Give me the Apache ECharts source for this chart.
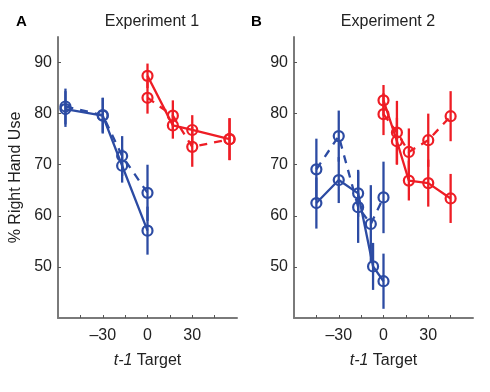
<!DOCTYPE html>
<html>
<head>
<meta charset="utf-8">
<script src="https://cdn.jsdelivr.net/npm/echarts@6/dist/echarts.min.js"></script>
<style>
  html, body { margin: 0; padding: 0; background: #fff; }
  #chart { width: 490px; height: 392px; }
</style>
</head>
<body>
<div id="chart"></div>
<script>
// axis ticks / labels
var xTicks = [-45, -30, -15, 0, 15, 30, 45];
var xLabels = [-30, 0, 30];
var yTicks = [50, 60, 70, 80, 90];

// Experiment 1 (panel A)
var a_blueX = [-55, -30, -17, 0];
var a_blueSolid = [80.9, 79.6, 69.8, 57.1];
var a_blueSolidErr = [3.5, 3.5, 3.3, 4.7];
var a_blueDash = [81.4, 79.7, 71.7, 64.5];
var a_blueDashErr = [3.5, 3.4, 3.9, 5.5];
var a_redX = [0, 17, 30, 55];
var a_redSolid = [87.4, 77.7, 76.8, 75.0];
var a_redSolidErr = [2.4, 2.6, 2.9, 4.1];
var a_redDash = [83.1, 79.6, 73.5, 75.0];
var a_redDashErr = [3.1, 3.0, 3.9, 4.1];

// Experiment 2 (panel B)
var b_blueSolidX = [-45, -30, -17, -7, 0];
var b_blueSolid = [62.5, 67.0, 64.4, 50.1, 47.2];
var b_blueSolidErr = [5.0, 4.5, 4.6, 4.6, 5.4];
var b_blueDashX = [-45, -30, -17, -8.5, 0];
var b_blueDash = [69.1, 75.6, 61.7, 58.4, 63.6];
var b_blueDashErr = [6.0, 5.0, 7.0, 7.6, 7.0];
var b_redX = [0, 9, 17, 30, 45];
var b_redSolid = [82.6, 74.6, 66.9, 66.4, 63.4];
var b_redSolidErr = [3.0, 4.6, 3.9, 4.6, 4.8];
var b_redDash = [79.9, 76.3, 72.5, 74.8, 79.5];
var b_redDashErr = [4.1, 6.2, 4.6, 5.2, 4.9];

var BLUE = "#2c4ba3";
var RED = "#ee1d25";
var AXIS = "#7a7a7a";
var FONT = "Liberation Sans, Arial, sans-serif";

function pairs(xs, ys) {
    return xs.map(function (x, i) { return [x, ys[i]]; });
}

function errData(xs, ys, es) {
    return xs.map(function (x, i) { return [x, ys[i] - es[i], ys[i] + es[i]]; });
}

// mean line with open circles
function lineSeries(g, xs, ys, color, dashed) {
    return {
        type: "line",
        xAxisIndex: g,
        yAxisIndex: g,
        data: pairs(xs, ys),
        symbol: "circle",
        symbolSize: 10,
        itemStyle: { color: "rgba(0,0,0,0)", borderColor: color, borderWidth: 2.2 },
        lineStyle: { color: color, width: 2.3, type: dashed ? [8, 7] : "solid" },
        silent: true,
        animation: false,
        z: 3,
    };
}

// vertical error bars
function errSeries(g, xs, ys, es, color) {
    return {
        type: "custom",
        xAxisIndex: g,
        yAxisIndex: g,
        data: errData(xs, ys, es),
        encode: { x: 0, y: [1, 2] },
        renderItem: function (params, api) {
            var lo = api.coord([api.value(0), api.value(1)]);
            var hi = api.coord([api.value(0), api.value(2)]);
            return {
                type: "line",
                shape: { x1: lo[0], y1: lo[1], x2: hi[0], y2: hi[1] },
                style: { stroke: color, lineWidth: 2.3 },
            };
        },
        silent: true,
        animation: false,
        z: 2,
    };
}

function xAxis(g) {
    return {
        gridIndex: g,
        type: "value",
        min: -60,
        max: 60,
        interval: 15,
        splitLine: { show: false },
        axisLine: { onZero: false, lineStyle: { color: AXIS, width: 2 } },
        axisTick: { inside: true, length: 3, customValues: xTicks, lineStyle: { color: "#555", width: 1 } },
        axisLabel: {
            customValues: xLabels,
            margin: 10,
            fontSize: 16,
            color: "#222",
            fontFamily: FONT,
            formatter: function (v) { return String(v).replace("-", "\u2013"); },
        },
        name: "{i|t-1} Target",
        nameLocation: "middle",
        nameGap: 35,
        nameTextStyle: {
            fontSize: 16,
            color: "#222",
            fontFamily: FONT,
            rich: { i: { fontStyle: "italic", fontSize: 16, color: "#222", fontFamily: FONT } },
        },
    };
}

function yAxis(g, name) {
    return {
        gridIndex: g,
        type: "value",
        min: 40,
        max: 95,
        splitLine: { show: false },
        axisLine: { onZero: false, lineStyle: { color: AXIS, width: 2 } },
        axisTick: { inside: true, length: 3, customValues: yTicks, lineStyle: { color: "#555", width: 1 } },
        axisLabel: { customValues: yTicks, margin: 6, fontSize: 16, color: "#222", fontFamily: FONT },
        name: name,
        nameLocation: "middle",
        nameGap: 34,
        nameTextStyle: { fontSize: 16, color: "#222", fontFamily: FONT },
    };
}

var chart = echarts.init(document.getElementById("chart"), null, { renderer: "canvas" });

chart.setOption({
    backgroundColor: "#fff",
    animation: false,
    title: [
        { text: "Experiment 1", left: 147, top: 9, textAlign: "center",
          textStyle: { fontSize: 16, fontWeight: "normal", color: "#222", fontFamily: FONT } },
        { text: "Experiment 2", left: 383, top: 9, textAlign: "center",
          textStyle: { fontSize: 16, fontWeight: "normal", color: "#222", fontFamily: FONT } },
        { text: "A", left: 11, top: 9,
          textStyle: { fontSize: 15, fontWeight: "bold", color: "#000", fontFamily: FONT } },
        { text: "B", left: 246, top: 9,
          textStyle: { fontSize: 15, fontWeight: "bold", color: "#000", fontFamily: FONT } },
    ],
    grid: [
        { left: 58, top: 37, width: 179, height: 281 },
        { left: 294, top: 37, width: 179, height: 281 },
    ],
    xAxis: [xAxis(0), xAxis(1)],
    yAxis: [yAxis(0, "% Right Hand Use"), yAxis(1, "")],
    series: [
        errSeries(0, a_blueX, a_blueSolid, a_blueSolidErr, BLUE),
        errSeries(0, a_blueX, a_blueDash, a_blueDashErr, BLUE),
        errSeries(0, a_redX, a_redSolid, a_redSolidErr, RED),
        errSeries(0, a_redX, a_redDash, a_redDashErr, RED),
        lineSeries(0, a_blueX, a_blueSolid, BLUE, false),
        lineSeries(0, a_blueX, a_blueDash, BLUE, true),
        lineSeries(0, a_redX, a_redSolid, RED, false),
        lineSeries(0, a_redX, a_redDash, RED, true),

        errSeries(1, b_blueSolidX, b_blueSolid, b_blueSolidErr, BLUE),
        errSeries(1, b_blueDashX, b_blueDash, b_blueDashErr, BLUE),
        errSeries(1, b_redX, b_redSolid, b_redSolidErr, RED),
        errSeries(1, b_redX, b_redDash, b_redDashErr, RED),
        lineSeries(1, b_blueSolidX, b_blueSolid, BLUE, false),
        lineSeries(1, b_blueDashX, b_blueDash, BLUE, true),
        lineSeries(1, b_redX, b_redSolid, RED, false),
        lineSeries(1, b_redX, b_redDash, RED, true),
    ],
});
</script>
</body>
</html>
